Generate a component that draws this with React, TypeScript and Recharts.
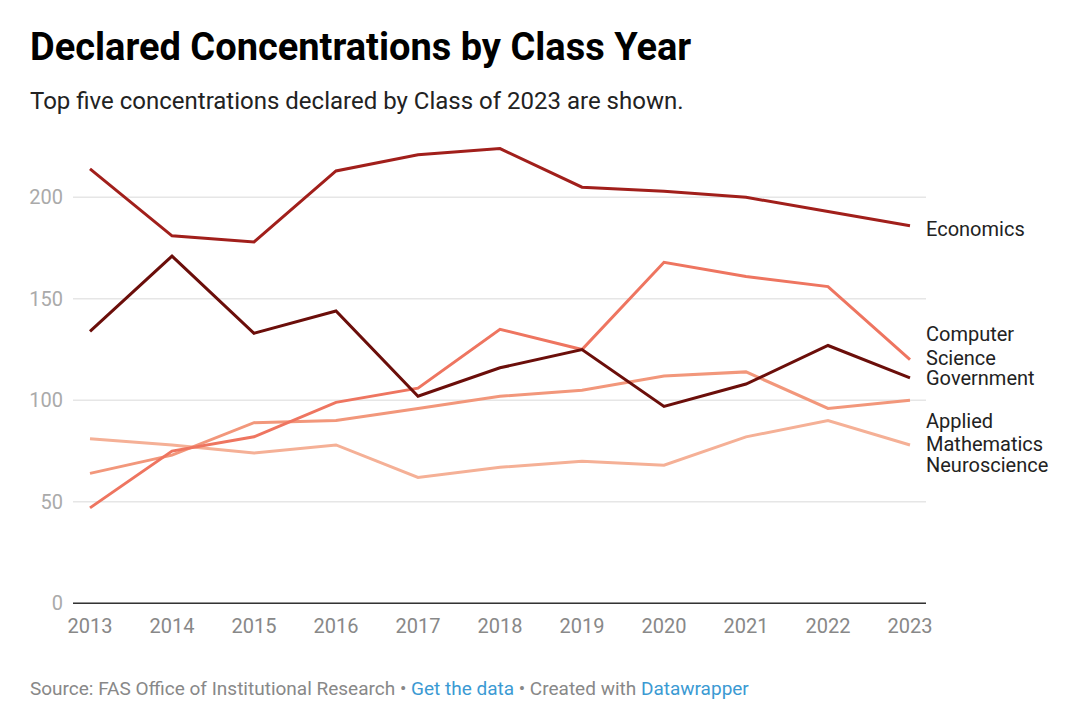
import React from "react";
import { LineChart, Line, XAxis, YAxis, ReferenceLine } from "recharts";

const years = ["2013", "2014", "2015", "2016", "2017", "2018", "2019", "2020", "2021", "2022", "2023"];
const economics = [214, 181, 178, 213, 221, 224, 205, 203, 200, 193, 186];
const government = [134, 171, 133, 144, 102, 116, 125, 97, 108, 127, 111];
const computerScience = [47, 75, 82, 99, 106, 135, 125, 168, 161, 156, 120];
const appliedMath = [64, 73, 89, 90, 96, 102, 105, 112, 114, 96, 100];
const neuroscience = [81, 78, 74, 78, 62, 67, 70, 68, 82, 90, 78];
const yTicks = [0, 50, 100, 150, 200];

const data = years.map((y, i) => ({
  year: y,
  neuroscience: neuroscience[i],
  appliedMath: appliedMath[i],
  computerScience: computerScience[i],
  government: government[i],
  economics: economics[i],
}));

const series = [
  { key: "neuroscience", color: "#f5b096", lines: ["Neuroscience"], dy: 20 },
  { key: "appliedMath", color: "#f2977b", lines: ["Applied", "Mathematics"], dy: 32 },
  { key: "computerScience", color: "#ee7560", lines: ["Computer", "Science"], dy: -14 },
  { key: "government", color: "#6b0e0a", lines: ["Government"], dy: 0 },
  { key: "economics", color: "#a11f1b", lines: ["Economics"], dy: 3 },
];

const FONT = "Roboto, 'Noto Sans', sans-serif";

function makeLabel(lines: string[], dy: number) {
  return (props: any) => {
    const { x, y, index } = props;
    if (index !== years.length - 1) return null;
    const lh = 23.5;
    const start = y + dy - ((lines.length - 1) * lh) / 2;
    return (
      <text x={x + 16} y={start} fontFamily={FONT} fontSize={20} fill="#222">
        {lines.map((l, i) => (
          <tspan key={i} x={x + 16} y={start + i * lh} dy="0.355em">
            {l}
          </tspan>
        ))}
      </text>
    );
  };
}

export default function App() {
  return (
    <div style={{ position: "absolute", left: 0, top: 0, width: 1080, height: 726, background: "#fff", overflow: "hidden" }}>
      <svg width={1080} height={726} style={{ position: "absolute", left: 0, top: 0 }}>
        <text x={30} y={60} fontFamily={FONT} fontWeight={700} fontSize={38} fill="#000">
          Declared Concentrations by Class Year
        </text>
        <text x={30} y={109} fontFamily={FONT} fontSize={24} fill="#222">
          Top five concentrations declared by Class of 2023 are shown.
        </text>
        <text x={30} y={695} fontFamily={FONT} fontSize={19} fill="#888">
          <tspan>Source: FAS Office of Institutional Research • </tspan>
          <tspan fill="#3b9ad3">Get the data</tspan>
          <tspan> • Created with </tspan>
          <tspan fill="#3b9ad3">Datawrapper</tspan>
        </text>
      </svg>
      <div style={{ position: "absolute", left: 0, top: 0 }}>
        <LineChart
          width={1080}
          height={726}
          data={data}
          margin={{ top: 95.8, right: 154, bottom: 92.7, left: 0 }}
        >
          {yTicks.map((t) => (
            <ReferenceLine key={t} y={t} stroke="#e6e6e6" strokeWidth={1.5} />
          ))}
          <XAxis
            dataKey="year"
            height={30}
            padding={{ left: 17, right: 16 }}
            tickLine={false}
            tickSize={0}
            tickMargin={15}
            axisLine={{ stroke: "#333", strokeWidth: 1.5 }}
            tick={{ fill: "#888", fontSize: 20, fontFamily: FONT }}
            interval={0}
          />
          <YAxis
            width={73}
            domain={[0, 250]}
            ticks={yTicks}
            tickLine={false}
            axisLine={false}
            tickSize={8}
            tickMargin={2}
            tick={{ fill: "#aaa", fontSize: 20, fontFamily: FONT }}
            interval={0}
          />
          {series.map((s) => (
            <Line
              key={s.key}
              dataKey={s.key}
              stroke={s.color}
              strokeWidth={3}
              dot={false}
              activeDot={false}
              isAnimationActive={false}
              label={makeLabel(s.lines, s.dy)}
            />
          ))}
        </LineChart>
      </div>
    </div>
  );
}
